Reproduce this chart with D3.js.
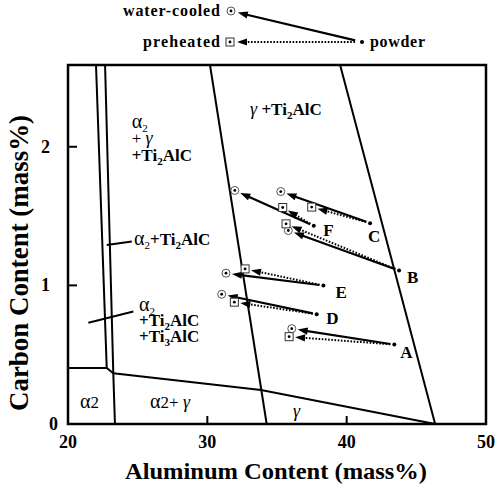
<!DOCTYPE html>
<html>
<head>
<meta charset="utf-8">
<script src="https://cdn.jsdelivr.net/npm/d3@7"></script>
<style>
  body { margin: 0; background: #fff; }
  svg { display: block; }
  text { font-family: "Liberation Serif", "Times New Roman", serif; fill: #000; }
</style>
</head>
<body>
<svg width="501" height="490"></svg>
<script>
// samples: powder composition -> water-cooled / preheated deposit
const samples = ['A', 'B', 'C', 'D', 'E', 'F'];
const powderAl = [43.42, 43.76, 41.68, 37.85, 38.33, 37.64];
const powderC = [0.573, 1.107, 1.449, 0.792, 0.999, 1.430];
const cooledAl = [36.06, 35.81, 35.27, 31.03, 31.34, 31.97];
const cooledC = [0.688, 1.396, 1.677, 0.936, 1.088, 1.685];
const heatedAl = [35.87, 35.65, 37.49, 31.94, 32.71, 35.41];
const heatedC = [0.630, 1.444, 1.565, 0.879, 1.119, 1.562];

const xTicks = [20, 30, 40, 50];
const yTicks = [0, 1, 2];

// phase boundaries, [Al, C]
const boundaries = [
  [[22.01, 2.59], [22.78, 0.404]],
  [[22.66, 2.59], [23.25, 0.366], [23.37, 0]],
  [[20, 0.404], [22.78, 0.404], [23.25, 0.366]],
  [[23.25, 0.366], [33.85, 0.245], [46.35, 0]],
  [[30.19, 2.59], [34.26, 0]],
  [[39.53, 2.59], [46.35, 0]]
];

const svg = d3.select('svg');
const x = d3.scaleLinear().domain([20, 50]).range([68, 486]);
const y = d3.scaleLinear().domain([0, 2.59]).range([424, 65]);

const line = d3.line().x(d => x(d[0])).y(d => y(d[1]));

// frame
svg.append('rect')
  .attr('x', x(20)).attr('y', y(2.59))
  .attr('width', x(50) - x(20)).attr('height', y(0) - y(2.59))
  .attr('fill', 'none').attr('stroke', '#000').attr('stroke-width', 2.5);

// inside ticks
svg.append('g').selectAll('line')
  .data(xTicks.filter(d => d > 20 && d < 50))
  .enter().append('line')
    .attr('x1', d => x(d)).attr('x2', d => x(d))
    .attr('y1', y(0)).attr('y2', y(0) - 8)
    .attr('stroke', '#000').attr('stroke-width', 2);
svg.append('g').selectAll('line')
  .data(yTicks.filter(d => d > 0))
  .enter().append('line')
    .attr('x1', x(20)).attr('x2', x(20) + 9)
    .attr('y1', d => y(d)).attr('y2', d => y(d))
    .attr('stroke', '#000').attr('stroke-width', 2);

// tick labels
svg.append('g').selectAll('text')
  .data(xTicks)
  .enter().append('text')
    .attr('x', d => x(d)).attr('y', 448)
    .attr('text-anchor', 'middle')
    .style('font-size', '18px').style('font-weight', 'bold')
    .text(d => d);
svg.append('g').selectAll('text')
  .data(yTicks)
  .enter().append('text')
    .attr('x', d => (d === 0 ? 58 : 50))
    .attr('y', d => y(d) + 6)
    .attr('text-anchor', 'end')
    .style('font-size', '18px').style('font-weight', 'bold')
    .text(d => d);

// axis titles
svg.append('text')
  .attr('x', 276).attr('y', 479)
  .attr('text-anchor', 'middle')
  .attr('textLength', 302).attr('lengthAdjust', 'spacingAndGlyphs')
  .style('font-size', '24px').style('font-weight', 'bold')
  .text('Aluminum Content (mass%)');
svg.append('text')
  .attr('transform', 'translate(28,263) rotate(-90)')
  .attr('text-anchor', 'middle')
  .attr('textLength', 296).attr('lengthAdjust', 'spacingAndGlyphs')
  .style('font-size', '27px').style('font-weight', 'bold')
  .text('Carbon Content (mass%)');

// phase boundaries
svg.append('g').selectAll('path')
  .data(boundaries)
  .enter().append('path')
    .attr('d', line)
    .attr('fill', 'none').attr('stroke', '#000').attr('stroke-width', 2);

// region labels, each line is a list of [text, style] pieces
function rich(g, px, py, lines, lh) {
  lines.forEach((pieces, li) => {
    const t = g.append('text').attr('x', px).attr('y', py + li * lh)
      .style('font-size', '17px');
    pieces.forEach(p => {
      const ts = t.append('tspan').text(p[0]);
      if (p[1] === 'a') ts.style('font-size', '20px');
      if (p[1] === 'b') ts.style('font-weight', 'bold');
      if (p[1] === 'i') ts.style('font-style', 'italic').style('font-size', '18px');
      if (p[1] === 'sub' || p[1] === 'bsub') {
        ts.attr('dy', 4).style('font-size', '11px');
        if (p[1] === 'bsub') ts.style('font-weight', 'bold');
      }
      if (p[2] === 'up') ts.attr('dy', -4);
    });
  });
}
const regions = svg.append('g');
rich(regions, x(24.57), y(2.137), [
  [['α', 'a'], ['2', 'sub']],
  [['+ '], ['γ', 'i']],
  [['+Ti', 'b'], ['2', 'bsub'], ['AlC', 'b', 'up']]
], 16.5);
rich(regions, x(24.74), y(1.292), [
  [['α', 'a'], ['2', 'sub'], ['+Ti', 'b', 'up'], ['2', 'bsub'], ['AlC', 'b', 'up']]
], 0);
rich(regions, x(25.10), y(0.816), [
  [['α', 'a'], ['2', 'sub']],
  [['+Ti', 'b'], ['2', 'bsub'], ['AlC', 'b', 'up']],
  [['+Ti', 'b'], ['3', 'bsub'], ['AlC', 'b', 'up']]
], 15.5);
rich(regions, x(20.86), y(0.116), [[['α', 'a'], ['2']]], 0);
rich(regions, x(25.89), y(0.116), [[['α', 'a'], ['2+ '], ['γ', 'i']]], 0);
rich(regions, x(36.15), y(0.05), [[['γ', 'i']]], 0);
rich(regions, x(33.07), y(2.231), [[['γ', 'i'], [' +Ti', 'b'], ['2', 'bsub'], ['AlC', 'b', 'up']]], 0);

// leader lines for the narrow regions
regions.append('path')
  .attr('d', line([[22.78, 1.292], [24.58, 1.316]]))
  .attr('stroke', '#000').attr('stroke-width', 2);
regions.append('path')
  .attr('d', line([[21.46, 0.731], [24.69, 0.811]]))
  .attr('stroke', '#000').attr('stroke-width', 2);

// arrows
function arrow(g, p, t, dotted, gapStart, gapEnd) {
  const dx = t[0] - p[0], dy = t[1] - p[1];
  const len = Math.hypot(dx, dy);
  const ux = dx / len, uy = dy / len;
  const sx = p[0] + ux * gapStart, sy = p[1] + uy * gapStart;
  const ex = t[0] - ux * gapEnd, ey = t[1] - uy * gapEnd;
  g.append('line')
    .attr('x1', sx).attr('y1', sy)
    .attr('x2', ex - ux * 5).attr('y2', ey - uy * 5)
    .attr('stroke', '#000').attr('stroke-width', dotted ? 2 : 2.2)
    .attr('stroke-dasharray', dotted ? '1.6,1.6' : null);
  const bx = ex - ux * 10, by = ey - uy * 10;
  g.append('path')
    .attr('d', `M${ex},${ey}L${bx - uy * 3.6},${by + ux * 3.6}L${bx + uy * 3.6},${by - ux * 3.6}Z`)
    .attr('fill', '#000');
}

function cooledMark(g, cx, cy) {
  g.append('circle').attr('cx', cx).attr('cy', cy).attr('r', 4)
    .attr('fill', '#fff').attr('stroke', '#555').attr('stroke-width', 1);
  g.append('circle').attr('cx', cx).attr('cy', cy).attr('r', 1.4).attr('fill', '#000');
}
function heatedMark(g, cx, cy) {
  g.append('rect').attr('x', cx - 4).attr('y', cy - 4).attr('width', 8).attr('height', 8)
    .attr('fill', '#fff').attr('stroke', '#333').attr('stroke-width', 1);
  g.append('circle').attr('cx', cx).attr('cy', cy).attr('r', 1.4).attr('fill', '#000');
}

const labelOffsets = [[6, 13], [8, 12], [-2, 19], [9.5, 10], [12, 12], [9.5, 10]];
const pts = svg.append('g');
samples.forEach((s, i) => {
  const p = [x(powderAl[i]), y(powderC[i])];
  const c = [x(cooledAl[i]), y(cooledC[i])];
  const h = [x(heatedAl[i]), y(heatedC[i])];
  arrow(pts, p, h, true, 4, 6);
  arrow(pts, p, c, false, 4, 6);
  cooledMark(pts, c[0], c[1]);
  heatedMark(pts, h[0], h[1]);
  pts.append('circle').attr('cx', p[0]).attr('cy', p[1]).attr('r', 2).attr('fill', '#000');
  pts.append('text')
    .attr('x', p[0] + labelOffsets[i][0]).attr('y', p[1] + labelOffsets[i][1])
    .style('font-size', '17px').style('font-weight', 'bold')
    .text(s);
});

// legend
const legend = svg.append('g');
cooledMark(legend, 231, 11);
heatedMark(legend, 230, 42);
legend.append('circle').attr('cx', 362).attr('cy', 42).attr('r', 2).attr('fill', '#000');
arrow(legend, [362, 42], [231, 11], false, 7, 7);
arrow(legend, [362, 42], [230, 42], true, 7, 7);
legend.append('text').attr('x', 220).attr('y', 16).attr('text-anchor', 'end')
  .attr('textLength', 97).attr('lengthAdjust', 'spacing')
  .style('font-size', '16px').style('font-weight', 'bold').text('water-cooled');
legend.append('text').attr('x', 220).attr('y', 47).attr('text-anchor', 'end')
  .attr('textLength', 77).attr('lengthAdjust', 'spacing')
  .style('font-size', '16px').style('font-weight', 'bold').text('preheated');
legend.append('text').attr('x', 370).attr('y', 47)
  .attr('textLength', 55).attr('lengthAdjust', 'spacing')
  .style('font-size', '16px').style('font-weight', 'bold').text('powder');
</script>
</body>
</html>
